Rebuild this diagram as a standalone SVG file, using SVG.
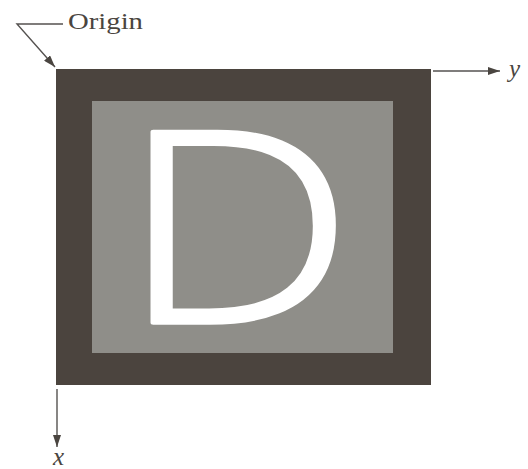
<svg xmlns="http://www.w3.org/2000/svg" width="528" height="469" viewBox="0 0 528 469">
<style>
.ax{stroke:#555250;stroke-width:1.4;fill:none}
.lbl{font-family:"Liberation Serif",serif;fill:#4a4540}
</style>
<defs>
<marker id="ah" viewBox="0 0 12 8" refX="12" refY="4" markerWidth="12" markerHeight="8" markerUnits="userSpaceOnUse" orient="auto">
<path d="M0,0 L12,4 L0,8 Z" fill="#4a4540"/>
</marker>
</defs>
<rect width="528" height="469" fill="#ffffff"/>
<g id="image">
<rect x="56" y="69" width="375" height="316" fill="#4b443e"/>
<rect x="92" y="101" width="301" height="252" fill="#8f8e89"/>
<text transform="translate(120,322.5) scale(1.24,1)" x="0" y="0" font-family="Open Sans" font-weight="300" font-size="267" fill="#ffffff" stroke="#ffffff" stroke-width="4.5" stroke-linejoin="round">D</text>
</g>
<g id="connectors">
<polyline class="ax" points="63,24 17,24 55,67" marker-end="url(#ah)"/>
<line class="ax" x1="433" y1="71" x2="500" y2="71" marker-end="url(#ah)"/>
<line class="ax" x1="57" y1="389" x2="57" y2="447" marker-end="url(#ah)"/>
</g>
<g id="labels">
<text class="lbl" x="68" y="28.5" font-size="23" textLength="75" lengthAdjust="spacingAndGlyphs">Origin</text>
<text class="lbl" x="509" y="77" font-size="25" font-style="italic">y</text>
<text class="lbl" x="53" y="465" font-size="25" font-style="italic">x</text>
</g>
</svg>
